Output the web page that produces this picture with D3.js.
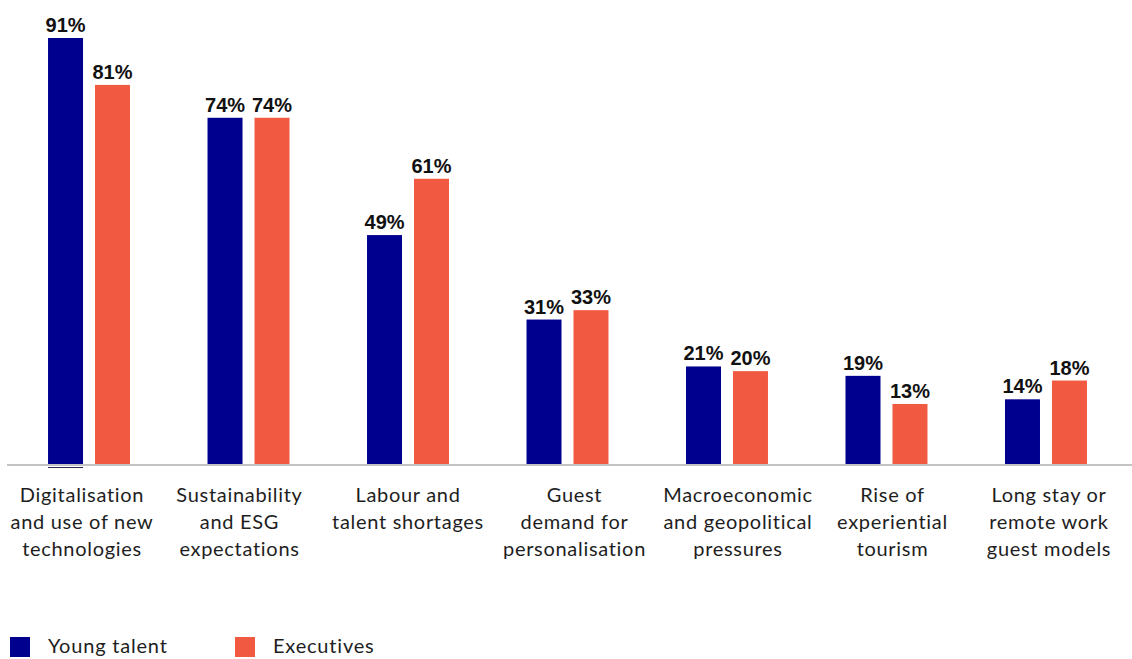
<!DOCTYPE html>
<html>
<head>
<meta charset="utf-8">
<script src="https://cdn.jsdelivr.net/npm/d3@7/dist/d3.min.js"></script>
<style>
  html, body { margin: 0; padding: 0; background: #fff; }
  svg { display: block; }
</style>
</head>
<body>
<svg id="chart" width="1132" height="659"></svg>
<script>
// Drivers of change: share of respondents citing each factor
const categories = [
  "Digitalisation and use of new technologies",
  "Sustainability and ESG expectations",
  "Labour and talent shortages",
  "Guest demand for personalisation",
  "Macroeconomic and geopolitical pressures",
  "Rise of experiential tourism",
  "Long stay or remote work guest models"
];
const categoryLines = [
  ["Digitalisation", "and use of new", "technologies"],
  ["Sustainability", "and ESG", "expectations"],
  ["Labour and", "talent shortages"],
  ["Guest", "demand for", "personalisation"],
  ["Macroeconomic", "and geopolitical", "pressures"],
  ["Rise of", "experiential", "tourism"],
  ["Long stay or", "remote work", "guest models"]
];
const seriesNames = ["Young talent", "Executives"];
const youngTalent = [91, 74, 49, 31, 21, 19, 14];
const executives  = [81, 74, 61, 33, 20, 13, 18];

// layout
const colors = { "Young talent": "#00008f", "Executives": "#f15a40" };
const labelShift = [-7, -9, 0, 7, 11, 6, 3];
const baseY = 465;

const svg = d3.select("#chart");

const x0 = d3.scaleBand()
  .domain(categories)
  .range([8, 1127])
  .paddingInner(0.486)
  .paddingOuter(0.251);

const x1 = d3.scaleBand()
  .domain(seriesNames)
  .range([0, x0.bandwidth()])
  .paddingInner(0.255)
  .paddingOuter(0);

const y = d3.scaleLinear().domain([0, 91]).range([baseY, 38]);

const rows = categories.map((c, i) => ({
  cat: c, i,
  values: [
    { key: "Young talent", v: youngTalent[i] },
    { key: "Executives", v: executives[i] }
  ]
}));

const groups = svg.append("g").selectAll("g")
  .data(rows).join("g")
  .attr("transform", d => `translate(${x0(d.cat)},0)`);

groups.selectAll("rect")
  .data(d => d.values).join("rect")
  .attr("x", d => x1(d.key))
  .attr("y", d => y(d.v))
  .attr("width", x1.bandwidth())
  .attr("height", d => y(0) - y(d.v))
  .attr("fill", d => colors[d.key]);

groups.selectAll("text.val")
  .data(d => d.values).join("text")
  .attr("class", "val")
  .attr("x", d => x1(d.key) + x1.bandwidth() / 2)
  .attr("y", d => y(d.v) - 6)
  .attr("text-anchor", "middle")
  .attr("font-family", "'Liberation Sans', Arial, sans-serif")
  .attr("font-weight", "bold")
  .attr("font-size", 20)
  .attr("fill", "#111")
  .text(d => d.v + "%");

// baseline axis
const xAxis = d3.axisBottom(x0).tickSize(0).tickFormat("");
const axisG = svg.append("g").attr("transform", `translate(0,${baseY})`).call(xAxis);
axisG.select(".domain")
  .attr("d", `M7,0H1132`)
  .attr("stroke", "#c4c4c4")
  .attr("stroke-width", 2);

// thin underline beneath the tallest bar
const first = rows[0];
svg.append("line")
  .attr("x1", x0(first.cat) + x1("Young talent"))
  .attr("x2", x0(first.cat) + x1("Young talent") + x1.bandwidth())
  .attr("y1", baseY + 2.5).attr("y2", baseY + 2.5)
  .attr("stroke", "#2a2a55").attr("stroke-width", 1);

// category labels
const labelFont = "Lato, 'Open Sans', sans-serif";
const labels = svg.append("g").selectAll("text")
  .data(rows).join("text")
  .attr("x", d => x0(d.cat) + x0.bandwidth() / 2 + labelShift[d.i])
  .attr("y", 502)
  .attr("text-anchor", "middle")
  .attr("font-family", labelFont)
  .attr("font-size", 20)
  .attr("letter-spacing", 0.7)
  .attr("fill", "#1e1e1e");
labels.selectAll("tspan")
  .data(d => categoryLines[d.i].map(t => ({ t, x: x0(d.cat) + x0.bandwidth() / 2 + labelShift[d.i] })))
  .join("tspan")
  .attr("x", d => d.x)
  .attr("dy", (d, j) => j === 0 ? 0 : 27)
  .text(d => d.t);

// legend
const legend = svg.append("g").selectAll("g")
  .data(seriesNames).join("g")
  .attr("transform", (d, i) => `translate(${10 + i * 225},637)`);
legend.append("rect")
  .attr("width", 20).attr("height", 20)
  .attr("fill", d => colors[d]);
legend.append("text")
  .attr("x", 38).attr("y", 16)
  .attr("font-family", labelFont)
  .attr("font-size", 20)
  .attr("letter-spacing", 0.8)
  .attr("fill", "#1e1e1e")
  .text(d => d);
</script>
</body>
</html>
